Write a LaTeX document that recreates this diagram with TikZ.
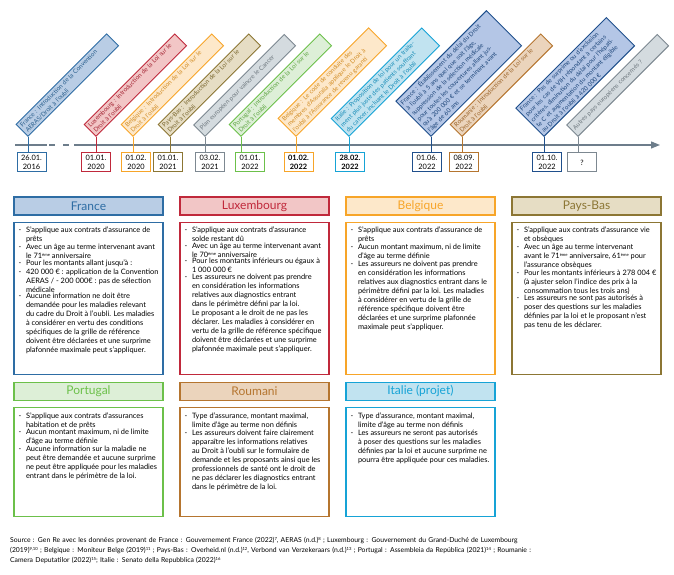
\documentclass[tikz,border=0pt]{standalone}
\usepackage{fontspec}
\setmainfont{Lato}
\usetikzlibrary{arrows.meta,positioning}

\definecolor{axe}{HTML}{6D7D8B}
\definecolor{frbord}{HTML}{2E6DA4}  \definecolor{frfond}{HTML}{B9CDE5}
\definecolor{fzbord}{HTML}{1F4F8C}  \definecolor{fzfond}{HTML}{B4C6E6}
\definecolor{lubord}{HTML}{C0293B}  \definecolor{lufond}{HTML}{F2C6C6}
\definecolor{bebord}{HTML}{F7A529}  \definecolor{befond}{HTML}{FDE8CA}
\definecolor{pbbord}{HTML}{8C7634}  \definecolor{pbfond}{HTML}{E6DDC4}
\definecolor{ptbord}{HTML}{6CC04A}  \definecolor{ptfond}{HTML}{DDEFD7}
\definecolor{robord}{HTML}{B5752F}  \definecolor{rofond}{HTML}{EBD4BC}
\definecolor{itbord}{HTML}{16A3D6}  \definecolor{itfond}{HTML}{C1E3F0}
\definecolor{grbord}{HTML}{7D8891}  \definecolor{grfond}{HTML}{D4DBDF}

% one bullet of a country box
\newcommand{\puce}[1]{\noindent\hbox to 7.5pt{-\hfil}\parbox[t]{135pt}{\raggedright #1}\par}
% small raised numbers
\newcommand{\expo}[1]{\raisebox{0.55ex}{\fontsize{4.2}{4.2}\selectfont #1}}

\begin{document}
\begin{tikzpicture}[x=1pt,y=1pt,
    jalon/.style={
      draw=#1bord, fill=#1fond, text=#1bord!85!black,
      line width=0.9pt, rotate=45, anchor=south west,
      align=left, text width=123pt, inner xsep=2.5pt, inner ysep=2.2pt,
      minimum height=16pt,
      font=\fontsize{6.1}{7.7}\selectfont,
    },
    datebox/.style={
      draw=#1bord, fill=white, line width=1pt,
      minimum width=29pt, minimum height=19pt, inner sep=1pt,
      align=center, font=\fontsize{7.4}{8.4}\selectfont,
    },
    tige/.style={draw=#1bord, line width=1pt},
    hdr/.style={
      draw=#1bord, fill=#1fond, text=#1bord, line width=1.2pt,
      minimum width=149pt, minimum height=18pt, inner sep=0pt,
      font=\fontsize{12}{12}\selectfont,
    },
    corps/.style={
      draw=#1bord, line width=1.2pt, fill=white,
      inner xsep=4.5pt, inner ysep=5pt, align=left,
      font=\fontsize{7.4}{9}\selectfont,
    },
  ]
  \useasboundingbox (0,0) rectangle (674,575);

  % timeline
  \coordinate (t0) at (15,430);
  \coordinate (t1) at (47,430);
  \coordinate (t2) at (49,430);
  \coordinate (t3) at (74,430);
  \coordinate (t4) at (660,430);
  \draw[axe, line width=1.2pt] (t0) -- (t1);
  \draw[axe, line width=1.2pt, dash pattern=on 6pt off 8pt] (t2) -- (t3);
  \draw[axe, line width=1.2pt, -{Triangle[length=9pt,width=7pt]}] (t3) -- (t4);

  % dates
  \node[datebox=fr] (d1) at (31.5,412.5) {26.01.\\2016};
  \node[datebox=lu] (d2) at (96,412.5) {01.01.\\2020};
  \node[datebox=be] (d3) at (136,412.5) {01.02.\\2020};
  \node[datebox=pb] (d4) at (168,412.5) {01.01.\\2021};
  \node[datebox=gr] (d5) at (210,412.5) {03.02.\\2021};
  \node[datebox=pt] (d6) at (250,412.5) {01.01.\\2022};
  \node[datebox=be, font=\fontsize{7.4}{8.4}\selectfont\bfseries] (d7) at (298.5,412.5) {01.02.\\2022};
  \node[datebox=it, font=\fontsize{7.4}{8.4}\selectfont\bfseries] (d8) at (350,412.5) {28.02.\\2022};
  \node[datebox=fz] (d9) at (427,412.5) {01.06.\\2022};
  \node[datebox=ro] (d10) at (464,412.5) {08.09.\\2022};
  \node[datebox=fz] (d11) at (547,412.5) {01.10.\\2022};
  \node[datebox=gr] (d12) at (582,412.5) {?};

  % events
  \node[jalon=fr] (j1) at (28,438) {France : Introduction de la Convention\\AERAS/Droit à l'oubli};
  \node[jalon=lu] (j2) at (96,438) {Luxembourg : Introduction de la Loi sur le\\Droit à l'oubli};
  \node[jalon=be] (j3) at (133,438) {Belgique : Introduction de la Loi sur le\\Droit à l'oubli};
  \node[jalon=pb] (j4) at (170,438) {Pays-Bas : Introduction de la Loi sur le\\Droit à l'oubli};
  \node[jalon=gr] (j5) at (205,438) {Plan européen pour vaincre le Cancer};
  \node[jalon=pt] (j6) at (241,438) {Portugal : Introduction de la Loi sur le\\Droit à l'oubli};
  \node[jalon=be] (j7) at (296,438) {Belgique : Le code de conduite des\\membres d'Assuralia applique le Droit à\\l'oubli à l'Assurance de revenu garanti};
  \node[jalon=it] (j8) at (349,438) {Italie : Proposition de loi pour un traite-\\ment plus juste des patients souffrant\\du cancer, incluant le Droit à l'oubli};
  \node[jalon=fz] (j9) at (431,438) {France : Établissement du délai du Droit\\à l'oubli à 5 ans quel que soit l'âge,\\suppression de la sélection médicale\\pour toutes les couvertures allant jus-\\qu'à 200 000 € et se terminant avant\\l'âge de 60 ans};
  \node[jalon=ro] (j10) at (462,438) {Roumanie : Introduction de la Loi sur le\\Droit à l'oubli};
  \node[jalon=fz] (j11) at (544,438) {France : Pas de surprime ou d'exclusion\\pour les cas de VIH répondant à certains\\critères, diminution du délai pour l'hépati-\\te C et augmentation du montant éligible\\au Droit à l'oubli à 420 000 €};
  \node[jalon=gr] (j12) at (578,438) {Autres pays européens concernés ?};

  \foreach \n/\c in {1/fr,2/lu,3/be,4/pb,5/gr,6/pt,7/be,8/it,9/fz,10/ro,11/fz,12/gr}
    \draw[tige=\c] (j\n.south west) -- (j\n.south west |- d\n.north);

  % country boxes, first row
  \node[hdr=fr] (hfr) at (88.5,369) {France};
  \node[hdr=lu] (hlu) at (254.5,369) {Luxembourg};
  \node[hdr=be] (hbe) at (420.5,369) {Belgique};
  \node[hdr=pb] (hpb) at (586.5,369) {Pays-Bas};

  \node[corps=fr, below=6pt of hfr] (cfr) {\begin{minipage}[t][142pt][t]{140pt}
    \puce{S'applique aux contrats d'assurance de\\prêts}
    \puce{Avec un âge au terme intervenant avant\\le 71\expo{ème} anniversaire}
    \puce{Pour les montants allant jusqu'à :}
    \puce{420 000 € : application de la Convention\\AERAS / - 200 000€ : pas de sélection\\médicale}
    \puce{Aucune information ne doit être\\demandée pour les maladies relevant\\du cadre du Droit à l'oubli. Les maladies\\à considérer en vertu des conditions\\spécifiques de la grille de référence\\doivent être déclarées et une surprime\\plafonnée maximale peut s'appliquer.}
  \end{minipage}};
  \node[corps=lu, below=6pt of hlu] (clu) {\begin{minipage}[t][142pt][t]{140pt}
    \puce{S'applique aux contrats d'assurance\\solde restant dû}
    \puce{Avec un âge au terme intervenant avant\\le 70\expo{ème} anniversaire}
    \puce{Pour les montants inférieurs ou égaux à\\1 000 000 €}
    \puce{Les assureurs ne doivent pas prendre\\en considération les informations\\relatives aux diagnostics entrant\\dans le périmètre défini par la loi.\\Le proposant a le droit de ne pas les\\déclarer. Les maladies à considérer en\\vertu de la grille de référence spécifique\\doivent être déclarées et une surprime\\plafonnée maximale peut s'appliquer.}
  \end{minipage}};
  \node[corps=be, below=6pt of hbe] (cbe) {\begin{minipage}[t][142pt][t]{140pt}
    \puce{S'applique aux contrats d'assurance de\\prêts}
    \puce{Aucun montant maximum, ni de limite\\d'âge au terme définie}
    \puce{Les assureurs ne doivent pas prendre\\en considération les informations\\relatives aux diagnostics entrant dans le\\périmètre défini par la loi. Les maladies\\à considérer en vertu de la grille de\\référence spécifique doivent être\\déclarées et une surprime plafonnée\\maximale peut s'appliquer.}
  \end{minipage}};
  \node[corps=pb, below=6pt of hpb] (cpb) {\begin{minipage}[t][142pt][t]{140pt}
    \puce{S'applique aux contrats d'assurance vie\\et obsèques}
    \puce{Avec un âge au terme intervenant\\avant le 71\expo{ème} anniversaire, 61\expo{ème} pour\\l'assurance obsèques}
    \puce{Pour les montants inférieurs à 278 004 €\\(à ajuster selon l'indice des prix à la\\consommation tous les trois ans)}
    \puce{Les assureurs ne sont pas autorisés à\\poser des questions sur les maladies\\définies par la loi et le proposant n'est\\pas tenu de les déclarer.}
  \end{minipage}};

  % country boxes, second row
  \node[hdr=pt, below=7pt of cfr] (hpt) {Portugal};
  \node[hdr=ro, below=7pt of clu] (hro) {Roumani};
  \node[hdr=it, below=7pt of cbe] (hit) {Italie (projet)};

  \node[corps=pt, below=6pt of hpt] (cpt) {\begin{minipage}[t][99pt][t]{140pt}
    \puce{S'applique aux contrats d'assurances\\habitation et de prêts}
    \puce{Aucun montant maximum, ni de limite\\d'âge au terme définie}
    \puce{Aucune information sur la maladie ne\\peut être demandée et aucune surprime\\ne peut être appliquée pour les maladies\\entrant dans le périmètre de la loi.}
  \end{minipage}};
  \node[corps=ro, below=6pt of hro] (cro) {\begin{minipage}[t][99pt][t]{140pt}
    \puce{Type d'assurance, montant maximal,\\limite d'âge au terme non définis}
    \puce{Les assureurs doivent faire clairement\\apparaître les informations relatives\\au Droit à l'oubli sur le formulaire de\\demande et les proposants ainsi que les\\professionnels de santé ont le droit de\\ne pas déclarer les diagnostics entrant\\dans le périmètre de la loi.}
  \end{minipage}};
  \node[corps=it, below=6pt of hit] (cit) {\begin{minipage}[t][99pt][t]{140pt}
    \puce{Type d'assurance, montant maximal,\\limite d'âge au terme non définis}
    \puce{Les assureurs ne seront pas autorisés\\à poser des questions sur les maladies\\définies par la loi et aucune surprime ne\\pourra être appliquée pour ces maladies.}
  \end{minipage}};

  % sources
  \node[anchor=north west, align=left, text width=560pt, inner sep=0pt,
    font=\fontsize{6.8}{10}\selectfont] (source) at (10,38) {%
    Source : Gen Re avec les données provenant de France : Gouvernement France (2022)\expo{7}, AERAS (n.d.)\expo{8} ; Luxembourg : Gouvernement du Grand-Duché de Luxembourg\\
    (2019)\expo{9,10} ; Belgique : Moniteur Belge (2019)\expo{11} ; Pays-Bas : Overheid.nl (n.d.)\expo{12}, Verbond van Verzekeraars (n.d.)\expo{13} ; Portugal : Assembleia da República (2021)\expo{14} ; Roumanie :\\
    Camera Deputatilor (2022)\expo{15}; Italie : Senato della Repubblica (2022)\expo{16}};
\end{tikzpicture}
\end{document}
